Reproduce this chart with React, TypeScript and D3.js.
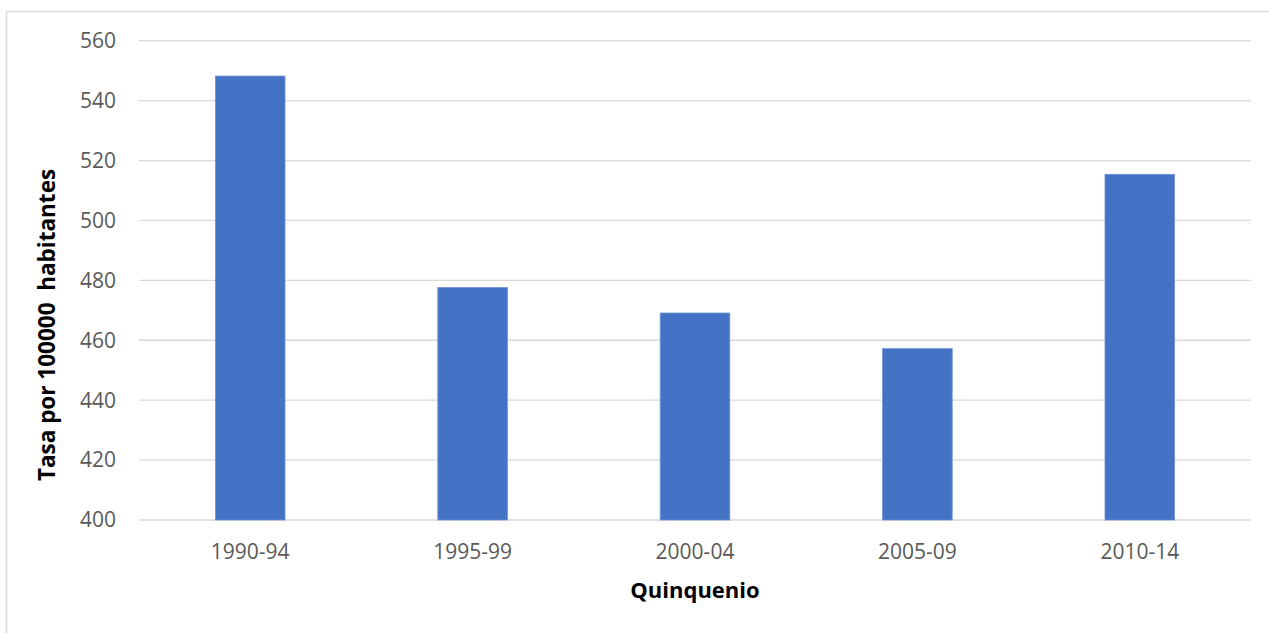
import { useEffect, useRef } from "react";
import * as d3 from "d3";

const CATEGORIES = ["1990-94", "1995-99", "2000-04", "2005-09", "2010-14"];
const VALUES = [548.2, 477.6, 469.1, 457.2, 515.4];
const Y_TICKS = [400, 420, 440, 460, 480, 500, 520, 540, 560];

const W = 1269;
const H = 633;
const PLOT = { left: 139, right: 1251, top: 40.7, bottom: 520 };
const FONT = "'Open Sans', sans-serif";

export default function App() {
  const svgRef = useRef<SVGSVGElement>(null);

  useEffect(() => {
    if (!svgRef.current) return;
    const svg = d3.select(svgRef.current);
    svg.selectAll("*").remove();

    // outer chart frame (right and bottom edges fall outside the picture)
    svg.append("rect")
      .attr("x", 6.5).attr("y", 11.5)
      .attr("width", W + 20).attr("height", H + 20)
      .attr("fill", "#fff").attr("stroke", "#d9d9d9").attr("stroke-width", 1.5);

    const x = d3.scaleBand<string>()
      .domain(CATEGORIES)
      .range([PLOT.left, PLOT.right])
      .paddingInner(0.687)
      .paddingOuter(0.3435);

    const y = d3.scaleLinear()
      .domain([400, 560])
      .range([PLOT.bottom, PLOT.top]);

    // Grid lines
    svg.append("g")
      .selectAll("line")
      .data(Y_TICKS)
      .join("line")
      .attr("x1", PLOT.left).attr("x2", PLOT.right)
      .attr("y1", (d) => y(d)).attr("y2", (d) => y(d))
      .attr("stroke", "#d9d9d9").attr("stroke-width", 1.3);

    // Y tick labels
    svg.append("g")
      .selectAll("text")
      .data(Y_TICKS)
      .join("text")
      .attr("x", 116)
      .attr("y", (d) => y(d))
      .attr("dy", "0.35em")
      .attr("text-anchor", "end")
      .attr("fill", "#595959")
      .attr("font-family", FONT)
      .attr("font-size", 21)
      .text((d) => d);

    // Bars
    svg.append("g")
      .selectAll("rect")
      .data(VALUES)
      .join("rect")
      .attr("x", (_, i) => x(CATEGORIES[i])!)
      .attr("y", (d) => y(d))
      .attr("width", x.bandwidth())
      .attr("height", (d) => y(400) - y(d))
      .attr("fill", "#4472c4")
      .attr("stroke", "#6f93d6")
      .attr("stroke-width", 0.8);

    // X tick labels
    svg.append("g")
      .selectAll("text")
      .data(CATEGORIES)
      .join("text")
      .attr("x", (d) => x(d)! + x.bandwidth() / 2)
      .attr("y", 558.5)
      .attr("text-anchor", "middle")
      .attr("fill", "#595959")
      .attr("font-family", FONT)
      .attr("font-size", 21)
      .text((d) => d);

    // Axis titles
    svg.append("text")
      .attr("x", (PLOT.left + PLOT.right) / 2)
      .attr("y", 598)
      .attr("text-anchor", "middle")
      .attr("font-family", FONT)
      .attr("font-weight", "bold")
      .attr("font-size", 22)
      .attr("fill", "#000")
      .text("Quinquenio");

    svg.append("text")
      .attr("transform", `translate(55,${325}) rotate(-90)`)
      .attr("text-anchor", "middle")
      .attr("font-family", FONT)
      .attr("font-weight", "bold")
      .attr("font-size", 22.5)
      .attr("fill", "#000")
      .attr("xml:space", "preserve")
      .style("white-space", "pre")
      .text("Tasa por 100000  habitantes");
  }, []);

  return (
    <svg
      ref={svgRef}
      width={W}
      height={H}
      style={{ position: "absolute", left: 0, top: 0, display: "block" }}
    />
  );
}
